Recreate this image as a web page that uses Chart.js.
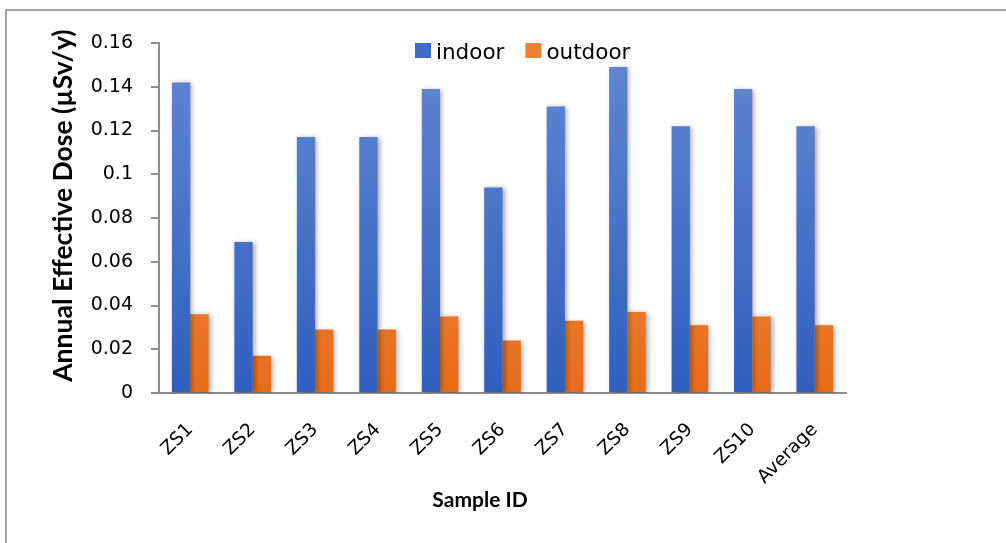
<!DOCTYPE html>
<html>
<head>
<meta charset="utf-8">
<script src="https://cdn.jsdelivr.net/npm/chart.js@4/dist/chart.umd.min.js"></script>
<style>
  html, body { margin: 0; padding: 0; background: #fff; }
  #wrap { position: relative; width: 1006px; height: 543px; overflow: hidden; }
  #frame { position: absolute; left: 5px; top: 9px; width: 1100px; height: 600px; border: 2px solid #a3a3a3; box-sizing: border-box; }
  canvas { position: absolute; left: 0; top: 0; }
</style>
</head>
<body>
<div id="wrap">
  <div id="frame"></div>
  <canvas id="chart" width="1006" height="543"></canvas>
</div>
<script>
// sample ids and annual effective dose (µSv/y)
var categories = ["ZS1", "ZS2", "ZS3", "ZS4", "ZS5", "ZS6", "ZS7", "ZS8", "ZS9", "ZS10", "Average"];
var indoor  = [0.142, 0.069, 0.117, 0.117, 0.139, 0.094, 0.131, 0.149, 0.122, 0.139, 0.122];
var outdoor = [0.036, 0.017, 0.029, 0.029, 0.035, 0.024, 0.033, 0.037, 0.031, 0.035, 0.031];
var yTicks  = ["0", "0.02", "0.04", "0.06", "0.08", "0.1", "0.12", "0.14", "0.16"];
var swatch  = ["#3f6cc8", "#ee8034"];

var REG = "'DejaVu Sans', sans-serif";
var BOLD = "Lato, 'Open Sans', sans-serif";

function grad(top, bottom) {
  return function (c) {
    var area = c.chart.chartArea;
    if (!area) return bottom;
    var g = c.chart.ctx.createLinearGradient(0, area.top, 0, area.bottom);
    g.addColorStop(0, top);
    g.addColorStop(1, bottom);
    return g;
  };
}

// soft drop shadow under the bars, like the office chart
var barShadow = {
  id: "barShadow",
  beforeDatasetsDraw: function (chart) {
    var ctx = chart.ctx;
    ctx.save();
    ctx.shadowColor = "rgba(0,0,0,0.35)";
    ctx.shadowBlur = 5;
    ctx.shadowOffsetX = 2;
    ctx.shadowOffsetY = 1;
  },
  afterDatasetsDraw: function (chart) {
    chart.ctx.restore();
  }
};

// legend row inside the plot + x axis title (both sit off-centre in the original)
var extras = {
  id: "extras",
  afterDraw: function (chart) {
    var ctx = chart.ctx;
    ctx.save();
    ctx.font = "21.5px " + REG;
    ctx.textBaseline = "alphabetic";
    ctx.textAlign = "left";
    var x = 415;
    chart.data.datasets.forEach(function (d, i) {
      ctx.fillStyle = swatch[i];
      ctx.fillRect(x, 43, 16, 15);
      ctx.fillStyle = "#000";
      ctx.fillText(d.label, x + 21, 59);
      x += 21 + ctx.measureText(d.label).width + 21;
    });
    ctx.font = "bold 21px " + BOLD;
    ctx.textAlign = "center";
    ctx.textBaseline = "middle";
    ctx.fillText("Sample ID", 480, 500);
    ctx.restore();
  }
};

new Chart(document.getElementById("chart").getContext("2d"), {
  type: "bar",
  data: {
    labels: categories,
    datasets: [
      { label: "indoor", data: indoor, backgroundColor: grad("#6388d2", "#2f5fbf") },
      { label: "outdoor", data: outdoor, backgroundColor: grad("#f29a62", "#e76c18") }
    ]
  },
  plugins: [barShadow, extras],
  options: {
    responsive: false,
    animation: false,
    devicePixelRatio: 1,
    layout: { padding: { left: 0, top: 43, right: 160, bottom: 0 } },
    datasets: { bar: { categoryPercentage: 0.586, barPercentage: 1 } },
    plugins: {
      legend: { display: false },
      tooltip: { enabled: false }
    },
    scales: {
      x: {
        grid: { display: false },
        border: { display: true, color: "#8c8c8c", width: 2 },
        ticks: {
          color: "#000",
          font: { family: REG, size: 18.5 },
          minRotation: 45,
          maxRotation: 45,
          padding: 18
        },
        afterFit: function (s) { s.height = 150; }
      },
      y: {
        min: 0,
        max: 0.16,
        grid: { drawOnChartArea: false, drawTicks: true, tickLength: 8, color: "#8c8c8c", lineWidth: 2 },
        border: { display: true, color: "#8c8c8c", width: 2 },
        ticks: {
          stepSize: 0.02,
          color: "#000",
          font: { family: REG, size: 19 },
          padding: 18,
          callback: function (v, i) { return yTicks[i]; }
        },
        title: {
          display: true,
          // leading no-break spaces nudge the title up a little, as in the original
          text: "\u00a0\u00a0\u00a0\u00a0Annual Effective Dose (\u00b5Sv/y)",
          color: "#000",
          font: { family: BOLD, size: 26.5, weight: "bold" },
          padding: { top: 48, bottom: 0 }
        },
        afterFit: function (s) { s.width = 159; }
      }
    }
  }
});
</script>
</body>
</html>
